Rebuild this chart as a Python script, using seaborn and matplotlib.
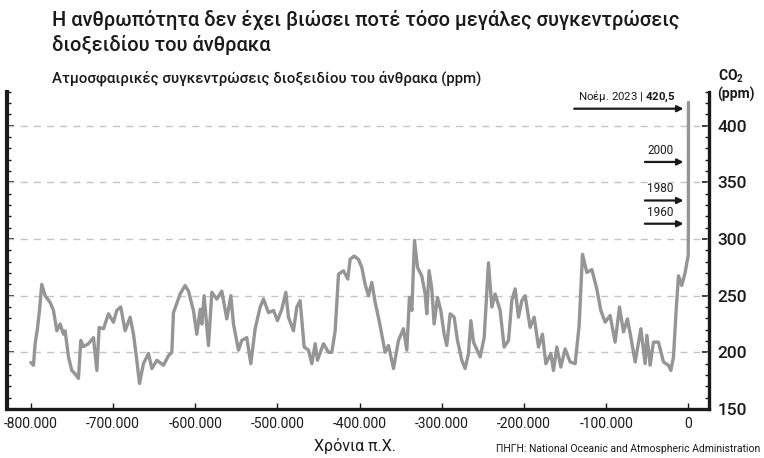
import matplotlib
matplotlib.use("Agg")
import matplotlib.pyplot as plt
import seaborn as sns
import pandas as pd
from matplotlib.ticker import MultipleLocator

# Χρόνια (σε χιλιάδες, π.Χ. = αρνητικά) και συγκέντρωση CO2 (ppm)
ETH_K = [
    -800.0, -796.8, -794.8, -792.0, -789.5, -786.7, -782.6, -776.5, -772.5, -768.4,
    -764.4, -760.3, -758.3, -754.2, -750.2, -746.1, -742.1, -739.2, -736.0, -729.9,
    -723.8, -719.7, -716.9, -711.6, -705.6, -699.5, -695.4, -690.6, -685.3, -679.2,
    -675.1, -671.1, -667.8, -663.0, -656.9, -652.8, -646.7, -638.6, -632.6, -628.5,
    -626.5, -618.4, -612.3, -608.2, -602.2, -598.1, -594.0, -592.0, -589.2, -583.9,
    -579.8, -573.8, -567.7, -561.6, -556.7, -553.5, -547.4, -543.4, -537.3, -532.4,
    -527.1, -521.0, -517.0, -510.9, -504.8, -500.0, -494.7, -489.8, -486.6, -480.5,
    -476.4, -472.4, -467.5, -462.3, -458.2, -454.1, -451.3, -444.0, -437.9, -433.9,
    -429.8, -425.7, -419.7, -414.4, -411.6, -406.7, -401.4, -397.4, -393.3, -389.3,
    -385.2, -381.1, -375.9, -369.0, -364.9, -358.8, -352.8, -346.7, -342.6, -339.4,
    -336.5, -333.3, -329.6, -324.4, -320.3, -318.3, -315.5, -312.2, -309.4, -305.3,
    -301.3, -297.2, -294.0, -289.9, -285.0, -281.0, -275.7, -271.7, -267.6, -264.7,
    -261.5, -253.4, -248.5, -243.3, -239.2, -235.2, -229.1, -224.2, -218.9, -214.9,
    -210.8, -206.8, -202.7, -198.7, -192.6, -187.7, -182.4, -177.6, -173.5, -167.4,
    -164.2, -160.1, -155.3, -150.0, -143.9, -137.8, -133.0, -128.9, -123.6, -117.5,
    -111.5, -106.6, -101.3, -95.3, -89.2, -83.9, -79.0, -74.2, -70.1, -64.8,
    -57.9, -52.7, -50.6, -46.6, -42.6, -36.5, -30.4, -24.3, -21.4, -18.2,
    -15.0, -12.1, -8.1, -4.0, -1.2, -0.3, -0.063, -0.043, -0.023, 0.0,
]
CO2 = [
    191, 188.6, 207.6, 220.8, 236.8, 260, 250, 244, 237, 219,
    225, 216, 219, 196, 184, 181, 177, 210.5, 205, 207.6,
    213, 184, 222, 220.8, 234, 226.6, 237, 240, 219, 231,
    216, 193, 172.5, 190, 199, 185.7, 193, 188.6, 197, 200,
    235, 251.5, 259, 254, 237, 216, 238, 225, 250, 206,
    253, 247, 254, 229.5, 250, 225, 202, 210.5, 213, 190,
    221, 240, 247, 235, 237, 228, 238, 253, 231, 219,
    240, 245.6, 204.7, 202, 190, 207.6, 193, 207.6, 200, 200,
    219, 269, 272, 264.6, 282, 285, 282, 275, 260, 250,
    261.7, 244, 226.6, 200, 206, 185.7, 210.5, 220.8, 202, 248.5,
    237, 298.8, 275, 267.5, 251.5, 234, 272, 256, 225, 248.5,
    237, 216, 206, 234, 231, 210.5, 193, 185.7, 199, 228,
    209, 196, 213, 279, 240, 251.5, 237, 204.7, 210.5, 245.6,
    256, 231, 245.6, 250, 222, 231, 204.7, 216, 190, 199,
    184, 204.7, 187, 203, 191.5, 190, 223.7, 286.5, 270.5, 273,
    256, 237, 226.6, 232.5, 209, 240, 218, 229.5, 213.5, 191.5,
    220.8, 190, 215, 188.6, 209, 209, 191.5, 188.6, 184, 196,
    237, 267.5, 259, 270.5, 282, 285, 317, 339, 369, 420.5,
]

XTICKS = [-800000, -700000, -600000, -500000, -400000, -300000, -200000, -100000, 0]
XTICK_LABELS = ["-800.000", "-700.000", "-600.000", "-500.000", "-400.000",
                "-300.000", "-200.000", "-100.000", "0"]
YTICKS = [150, 200, 250, 300, 350, 400]
YTICK_LABELS = ["150", "200", "250", "300", "350", "400"]
GRID_Y = [200, 250, 300, 350, 400]

# Βέλη: (ετικέτα, ύψος σε ppm)
ARROW_LABELS = ["2000", "1980", "1960"]
ARROW_Y = [368, 334, 313.5]

GRAMMI = "#959595"
MAVRO = "#1a1a1a"

sns.set_theme(style="white")
plt.rcParams["font.family"] = ["Roboto", "DejaVu Sans"]
plt.rcParams["mathtext.fontset"] = "custom"
plt.rcParams["mathtext.rm"] = "Roboto"
plt.rcParams["mathtext.bf"] = "Roboto:bold"

df = pd.DataFrame({"etos": [e * 1000 for e in ETH_K], "co2": CO2})

fig = plt.figure(figsize=(7.64, 4.58), dpi=100)
ax = fig.add_axes([7 / 764, 1 - 409 / 458, 702 / 764, 317.3 / 458])

for g in GRID_Y:
    ax.axhline(g, color="#c4c4c4", lw=1.0, dashes=(5, 4.5), zorder=1)

sns.lineplot(data=df, x="etos", y="co2", ax=ax, color=GRAMMI, lw=2.4,
             zorder=3, solid_joinstyle="round")

ax.set_xlim(-829000, 25000)
ax.set_ylim(150, 430)
ax.set_xlabel("")
ax.set_ylabel("")

ax.set_xticks(XTICKS)
ax.set_xticklabels(XTICK_LABELS, fontsize=10, color=MAVRO)
ax.set_yticks(YTICKS)
ax.set_yticklabels(YTICK_LABELS, fontsize=12.5, color=MAVRO, fontweight="medium")
ax.yaxis.set_minor_locator(MultipleLocator(10))

ax.tick_params(axis="x", which="major", direction="in", length=4.5, width=1,
               color=MAVRO, pad=6, bottom=True)
ax.tick_params(axis="y", which="major", direction="in", length=5, width=1.2,
               color=MAVRO, left=True, right=True, labelleft=False,
               labelright=True, pad=6)
ax.tick_params(axis="y", which="minor", direction="in", length=2.6, width=1,
               color=MAVRO, left=True, right=True)

ax.spines["top"].set_visible(False)
ax.spines["left"].set_linewidth(3.0)
ax.spines["bottom"].set_linewidth(2.4)
ax.spines["right"].set_linewidth(2.4)
for s in ["left", "bottom", "right"]:
    ax.spines[s].set_color(MAVRO)

# Βέλη
ax.annotate("", xy=(-6000, 415), xytext=(-139000, 415),
            arrowprops=dict(arrowstyle="-|>", color=MAVRO, lw=1.6,
                            mutation_scale=9, shrinkA=0, shrinkB=0))
ax.text(-16000, 419.5, r"Νοέμ. 2023 | $\mathbf{420{,}5}$", ha="right",
        va="bottom", fontsize=8.2, color=MAVRO)
for lab, yv in zip(ARROW_LABELS, ARROW_Y):
    ax.annotate("", xy=(-6000, yv), xytext=(-53000, yv),
                arrowprops=dict(arrowstyle="-|>", color=MAVRO, lw=1.6,
                                mutation_scale=9, shrinkA=0, shrinkB=0))
    ax.text(-18000, yv + 4.5, lab, ha="right", va="bottom", fontsize=8.5,
            color=MAVRO)

# Κείμενα
fig.text(52 / 764, 1 - 10 / 458,
         "Η ανθρωπότητα δεν έχει βιώσει ποτέ τόσο μεγάλες συγκεντρώσεις\n"
         "διοξειδίου του άνθρακα",
         ha="left", va="top", fontsize=14.4, fontweight="medium", color=MAVRO,
         linespacing=1.3)
fig.text(52 / 764, 1 - 78 / 458,
         "Ατμοσφαιρικές συγκεντρώσεις διοξειδίου του άνθρακα (ppm)",
         ha="left", va="center", fontsize=10.8, fontweight="medium", color=MAVRO)
fig.text(718 / 764, 1 - 76 / 458, r"CO$_\mathbf{2}$", ha="left", va="center",
         fontsize=10, fontweight="bold", color=MAVRO)
fig.text(717 / 764, 1 - 94 / 458, "(ppm)", ha="left", va="center",
         fontsize=10, fontweight="bold", color=MAVRO)
fig.text(355 / 764, 1 - 446 / 458, "Χρόνια π.Χ.", ha="center", va="center",
         fontsize=11.5, color=MAVRO)
fig.text(760 / 764, 1 - 449 / 458,
         "ΠΗΓΗ: National Oceanic and Atmospheric Administration",
         ha="right", va="center", fontsize=7.5, color=MAVRO)

fig.savefig("out.png", dpi=100)
